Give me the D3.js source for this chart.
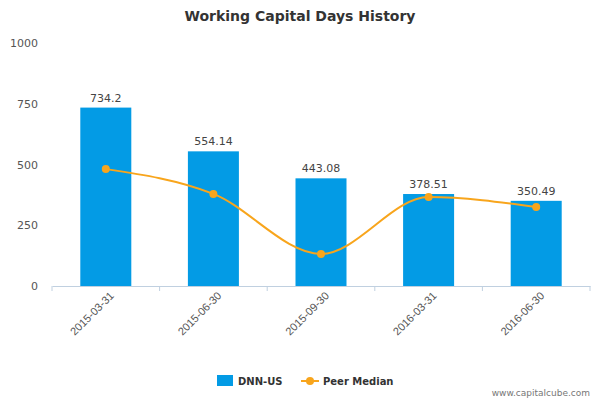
<!DOCTYPE html>
<html>
<head>
<meta charset="utf-8">
<script src="https://cdn.jsdelivr.net/npm/d3@7"></script>
<style>
  body { margin: 0; font-family: "DejaVu Sans", sans-serif; }
</style>
</head>
<body>
<div id="chart"></div>
<script>
let width = 600, height = 400;

let dates = ["2015-03-31", "2015-06-30", "2015-09-30", "2016-03-31", "2016-06-30"];
let companyValues = [734.2, 554.14, 443.08, 378.51, 350.49];
let peerValues = [481, 379, 132, 366, 325];
let yTicks = [0, 250, 500, 750, 1000];

let margin = {top: 43, right: 10, bottom: 114, left: 52};

let svg = d3.select("#chart").append("svg")
    .attr("width", width)
    .attr("height", height)
    .style("font-family", "DejaVu Sans, sans-serif");

let x = d3.scaleBand()
    .domain(dates)
    .range([margin.left, width - margin.right]);

let y = d3.scaleLinear()
    .domain([0, 1000])
    .range([height - margin.bottom, margin.top]);

// title
svg.append("text")
    .attr("x", width / 2)
    .attr("y", 21)
    .attr("text-anchor", "middle")
    .attr("font-size", 14)
    .attr("font-weight", "bold")
    .attr("fill", "#333")
    .text("Working Capital Days History");

// y axis labels
svg.selectAll(".ytick")
    .data(yTicks)
    .enter().append("text")
    .attr("x", 38)
    .attr("y", d => y(d) + 4)
    .attr("text-anchor", "end")
    .attr("font-size", 11)
    .attr("fill", "#555")
    .text(d => d);

// x axis
let xAxis = svg.append("g")
    .attr("transform", `translate(0,${y(0)})`)
    .call(d3.axisBottom(x).tickSize(5).tickSizeOuter(0));

xAxis.select(".domain").attr("stroke", "#c0d0e0");
xAxis.selectAll(".tick line")
    .attr("stroke", "#c0d0e0")
    .attr("transform", `translate(${-x.bandwidth() / 2},0)`);
xAxis.append("line")
    .attr("x1", width - margin.right).attr("x2", width - margin.right)
    .attr("y1", 0).attr("y2", 5)
    .attr("stroke", "#c0d0e0");
xAxis.selectAll(".tick text")
    .attr("font-size", 11)
    .attr("fill", "#555")
    .attr("text-anchor", "end")
    .attr("dx", "-0.1em")
    .attr("dy", "0.5em")
    .attr("transform", "rotate(-45)");

// bars
let barW = 51;
svg.selectAll(".bar")
    .data(companyValues)
    .enter().append("rect")
    .attr("x", (d, i) => x(dates[i]) + x.bandwidth() / 2 - barW / 2)
    .attr("y", d => y(d))
    .attr("width", barW)
    .attr("height", d => y(0) - y(d))
    .attr("fill", "#039be5");

svg.selectAll(".barlabel")
    .data(companyValues)
    .enter().append("text")
    .attr("x", (d, i) => x(dates[i]) + x.bandwidth() / 2)
    .attr("y", d => y(d) - 6)
    .attr("text-anchor", "middle")
    .attr("font-size", 11)
    .attr("fill", "#444")
    .text(d => d);

// peer median line
let line = d3.line()
    .x((d, i) => x(dates[i]) + x.bandwidth() / 2)
    .y(d => y(d))
    .curve(d3.curveMonotoneX);

svg.append("path")
    .datum(peerValues)
    .attr("d", line)
    .attr("fill", "none")
    .attr("stroke", "#f8a51c")
    .attr("stroke-width", 2);

svg.selectAll(".pt")
    .data(peerValues)
    .enter().append("circle")
    .attr("cx", (d, i) => x(dates[i]) + x.bandwidth() / 2)
    .attr("cy", d => y(d))
    .attr("r", 4)
    .attr("fill", "#f8a51c");

// legend
let legend = svg.append("g").attr("transform", "translate(0,381)");
legend.append("rect")
    .attr("x", 217).attr("y", -6)
    .attr("width", 16).attr("height", 11)
    .attr("fill", "#039be5");
legend.append("text")
    .attr("x", 238).attr("y", 4)
    .attr("font-size", 10).attr("font-weight", "bold").attr("fill", "#333")
    .text("DNN-US");
legend.append("line")
    .attr("x1", 301).attr("x2", 319)
    .attr("y1", 0).attr("y2", 0)
    .attr("stroke", "#f8a51c").attr("stroke-width", 2);
legend.append("circle")
    .attr("cx", 310).attr("cy", 0).attr("r", 4)
    .attr("fill", "#f8a51c");
legend.append("text")
    .attr("x", 323).attr("y", 4)
    .attr("font-size", 10).attr("font-weight", "bold").attr("fill", "#333")
    .text("Peer Median");

// watermark
svg.append("text")
    .attr("x", 590).attr("y", 396)
    .attr("text-anchor", "end")
    .attr("font-size", 9)
    .attr("fill", "#777")
    .text("www.capitalcube.com");
</script>
</body>
</html>
